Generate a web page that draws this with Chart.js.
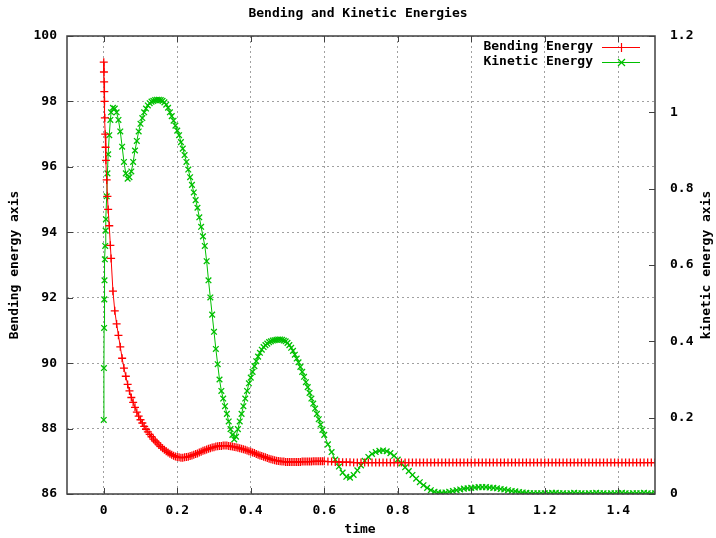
<!DOCTYPE html>
<html>
<head>
<meta charset="utf-8">
<script src="https://cdn.jsdelivr.net/npm/chart.js@4"></script>
<style>
  body { margin: 0; background: #fff; }
  #wrap { width: 716px; height: 538px; position: relative; }
</style>
</head>
<body>
<div id="wrap"><canvas id="energyChart"></canvas></div>
<script>
// data
const time = [
  0, 0.0005, 0.001, 0.0015, 0.002, 0.003, 0.004, 0.005, 0.006, 0.008, 0.01, 0.012, 0.015, 0.018,
  0.02, 0.025, 0.03, 0.035, 0.04, 0.045, 0.05, 0.055, 0.06, 0.065,
  0.07, 0.075, 0.08, 0.085, 0.09, 0.095, 0.1, 0.105, 0.11, 0.115,
  0.12, 0.125, 0.13, 0.135, 0.14, 0.145, 0.15, 0.155, 0.16, 0.165,
  0.17, 0.175, 0.18, 0.185, 0.19, 0.195, 0.2, 0.205, 0.21, 0.215,
  0.22, 0.225, 0.23, 0.235, 0.24, 0.245, 0.25, 0.255, 0.26, 0.265,
  0.27, 0.275, 0.28, 0.285, 0.29, 0.295, 0.3, 0.305, 0.31, 0.315,
  0.32, 0.325, 0.33, 0.335, 0.34, 0.345, 0.35, 0.355, 0.36, 0.365,
  0.37, 0.375, 0.38, 0.385, 0.39, 0.395, 0.4, 0.405, 0.41, 0.415,
  0.42, 0.425, 0.43, 0.435, 0.44, 0.445, 0.45, 0.455, 0.46, 0.465,
  0.47, 0.475, 0.48, 0.485, 0.49, 0.495, 0.5, 0.505, 0.51, 0.515,
  0.52, 0.525, 0.53, 0.535, 0.54, 0.545, 0.55, 0.555, 0.56, 0.565,
  0.57, 0.575, 0.58, 0.585, 0.59, 0.595, 0.6,
  0.61, 0.62, 0.63, 0.64, 0.65, 0.66, 0.67, 0.68, 0.69, 0.7,
  0.71, 0.72, 0.73, 0.74, 0.75, 0.76, 0.77, 0.78, 0.79, 0.8,
  0.81, 0.82, 0.83, 0.84, 0.85, 0.86, 0.87, 0.88, 0.89, 0.9,
  0.91, 0.92, 0.93, 0.94, 0.95, 0.96, 0.97, 0.98, 0.99, 1,
  1.01, 1.02, 1.03, 1.04, 1.05, 1.06, 1.07, 1.08, 1.09, 1.1,
  1.11, 1.12, 1.13, 1.14, 1.15, 1.16, 1.17, 1.18, 1.19, 1.2,
  1.21, 1.22, 1.23, 1.24, 1.25, 1.26, 1.27, 1.28, 1.29, 1.3,
  1.31, 1.32, 1.33, 1.34, 1.35, 1.36, 1.37, 1.38, 1.39, 1.4,
  1.41, 1.42, 1.43, 1.44, 1.45, 1.46, 1.47, 1.48, 1.49, 1.5
];

const bending = [
  99.2, 98.9, 98.6, 98.3, 98.0, 97.5, 97.0, 96.6, 96.2, 95.6, 95.1, 94.7, 94.2, 93.6,
  93.2, 92.2, 91.6, 91.2, 90.85, 90.5, 90.15, 89.85, 89.6, 89.35,
  89.15, 88.95, 88.8, 88.65, 88.5, 88.38, 88.27, 88.17, 88.07, 87.98,
  87.9, 87.82, 87.75, 87.68, 87.62, 87.56, 87.5, 87.45, 87.4, 87.35,
  87.31, 87.27, 87.23, 87.2, 87.17, 87.15, 87.13, 87.12, 87.11, 87.11,
  87.12, 87.13, 87.14, 87.16, 87.18, 87.2, 87.22, 87.24, 87.27, 87.29,
  87.32, 87.34, 87.36, 87.38, 87.4, 87.42, 87.43, 87.45, 87.46, 87.47,
  87.47, 87.48, 87.48, 87.48, 87.47, 87.46, 87.45, 87.44, 87.43, 87.41,
  87.4, 87.38, 87.37, 87.35, 87.33, 87.31, 87.29, 87.27, 87.25, 87.22,
  87.2, 87.18, 87.16, 87.14, 87.12, 87.1, 87.08, 87.06, 87.05, 87.03,
  87.02, 87.01, 87.0, 86.99, 86.99, 86.98, 86.98, 86.98, 86.98, 86.98,
  86.98, 86.98, 86.98, 86.98, 86.99, 86.99, 86.99, 86.99, 86.99, 86.99,
  87.0, 87.0, 87.0, 87.0, 87.0, 87.0, 87.0,
  86.99, 86.99, 86.98, 86.98, 86.97, 86.97, 86.97, 86.96, 86.96, 86.96,
  86.96, 86.96, 86.96, 86.96, 86.96, 86.96, 86.96, 86.96, 86.96, 86.96,
  86.96, 86.96, 86.96, 86.96, 86.96, 86.96, 86.96, 86.96, 86.96, 86.96,
  86.96, 86.96, 86.96, 86.96, 86.96, 86.96, 86.96, 86.96, 86.96, 86.96,
  86.96, 86.96, 86.96, 86.96, 86.96, 86.96, 86.96, 86.96, 86.96, 86.96,
  86.96, 86.96, 86.96, 86.96, 86.96, 86.96, 86.96, 86.96, 86.96, 86.96,
  86.96, 86.96, 86.96, 86.96, 86.96, 86.96, 86.96, 86.96, 86.96, 86.96,
  86.96, 86.96, 86.96, 86.96, 86.96, 86.96, 86.96, 86.96, 86.96, 86.96,
  86.96, 86.96, 86.96, 86.96, 86.96, 86.96, 86.96, 86.96, 86.96, 86.96
];

const kinetic = [
  0.194, 0.33, 0.435, 0.51, 0.56, 0.615, 0.65, 0.69, 0.72, 0.78, 0.84, 0.89, 0.94, 0.98,
  1.0, 1.012, 1.01, 1.0, 0.98, 0.95, 0.91, 0.87, 0.84, 0.826,
  0.83, 0.845, 0.87, 0.9, 0.925, 0.95, 0.97, 0.985, 1.0, 1.01,
  1.018, 1.024, 1.028, 1.03, 1.032, 1.033, 1.033, 1.032, 1.03, 1.026,
  1.02, 1.012, 1.0, 0.99, 0.978, 0.965, 0.952, 0.94, 0.922, 0.905,
  0.888, 0.87, 0.85, 0.83, 0.81, 0.79, 0.77, 0.75, 0.725, 0.7,
  0.675, 0.65, 0.61, 0.56, 0.515, 0.47, 0.425, 0.38, 0.34, 0.3,
  0.27, 0.25, 0.23, 0.21, 0.19, 0.17, 0.155, 0.143, 0.15, 0.17,
  0.19, 0.21, 0.23, 0.25, 0.27, 0.29, 0.305, 0.32, 0.335, 0.348,
  0.36, 0.37, 0.378, 0.385, 0.39, 0.394, 0.398, 0.4, 0.402, 0.403,
  0.404, 0.405, 0.405, 0.404, 0.402, 0.4, 0.396, 0.39, 0.383, 0.375,
  0.365, 0.355, 0.345, 0.333, 0.32, 0.307, 0.293, 0.28, 0.265, 0.25,
  0.237, 0.224, 0.21, 0.196, 0.182, 0.168, 0.155,
  0.13, 0.11, 0.09, 0.072, 0.056, 0.045, 0.043, 0.05, 0.062, 0.075,
  0.087, 0.097, 0.105, 0.11, 0.113, 0.114, 0.112, 0.107, 0.1, 0.09,
  0.08, 0.07, 0.06, 0.05, 0.04, 0.031, 0.023, 0.016, 0.01, 0.006,
  0.004, 0.003, 0.004, 0.006, 0.008, 0.01, 0.012, 0.014, 0.015, 0.016,
  0.017, 0.018, 0.018, 0.018, 0.017, 0.016, 0.015, 0.013, 0.012, 0.01,
  0.008, 0.007, 0.005, 0.004, 0.003, 0.002, 0.002, 0.002, 0.002, 0.002,
  0.002, 0.003, 0.003, 0.002, 0.002, 0.001, 0.002, 0.003, 0.002, 0.002,
  0.001, 0.002, 0.002, 0.003, 0.002, 0.002, 0.001, 0.002, 0.002, 0.002,
  0.003, 0.002, 0.001, 0.002, 0.002, 0.002, 0.003, 0.002, 0.001, 0.002
];

const xTicks = [0, 0.2, 0.4, 0.6, 0.8, 1, 1.2, 1.4];
const yTicks = [86, 88, 90, 92, 94, 96, 98, 100];
const y2Ticks = [0, 0.2, 0.4, 0.6, 0.8, 1, 1.2];

const FONT = '"DejaVu Sans Mono", "Liberation Mono", monospace';
const RED = '#ff0000';
const GREEN = '#00c000';
const FRAME = '#404040';

// gnuplot style frame, inward ticks, titles and legend
const gnuplotBits = {
  id: 'gnuplotBits',
  afterDraw(chart) {
    const { ctx, chartArea: a, scales } = chart;
    ctx.save();
    ctx.strokeStyle = FRAME;
    ctx.lineWidth = 1.5;
    ctx.strokeRect(a.left, a.top, a.right - a.left, a.bottom - a.top);

    ctx.lineWidth = 1;
    ctx.beginPath();
    xTicks.forEach(v => {
      const p = Math.round(scales.x.getPixelForValue(v)) + 0.5;
      ctx.moveTo(p, a.bottom); ctx.lineTo(p, a.bottom - 6);
      ctx.moveTo(p, a.top); ctx.lineTo(p, a.top + 6);
    });
    yTicks.forEach(v => {
      const p = Math.round(scales.y.getPixelForValue(v)) + 0.5;
      ctx.moveTo(a.left, p); ctx.lineTo(a.left + 6, p);
    });
    y2Ticks.forEach(v => {
      const p = Math.round(scales.y2.getPixelForValue(v)) + 0.5;
      ctx.moveTo(a.right, p); ctx.lineTo(a.right - 6, p);
    });
    ctx.stroke();

    ctx.fillStyle = '#000';
    ctx.font = 'bold 13px ' + FONT;
    ctx.textAlign = 'center';
    ctx.textBaseline = 'middle';
    ctx.fillText('Bending and Kinetic Energies', 358, 14);
    ctx.fillText('time', 360, 530);

    ctx.save();
    ctx.translate(15, 265);
    ctx.rotate(-Math.PI / 2);
    ctx.fillText('Bending energy axis', 0, 0);
    ctx.restore();

    ctx.save();
    ctx.translate(707, 265);
    ctx.rotate(-Math.PI / 2);
    ctx.fillText('kinetic energy axis', 0, 0);
    ctx.restore();

    // legend: text then sample
    ctx.textAlign = 'right';
    ctx.fillText('Bending Energy', 593, 47);
    ctx.fillText('Kinetic Energy', 593, 62);
    ctx.lineWidth = 1.2;
    ctx.strokeStyle = RED;
    ctx.beginPath();
    ctx.moveTo(602, 47.5); ctx.lineTo(640, 47.5);
    ctx.moveTo(621.5, 43); ctx.lineTo(621.5, 52);
    ctx.stroke();
    ctx.strokeStyle = GREEN;
    ctx.beginPath();
    ctx.moveTo(602, 62.5); ctx.lineTo(640, 62.5);
    ctx.moveTo(618, 59); ctx.lineTo(625, 66);
    ctx.moveTo(625, 59); ctx.lineTo(618, 66);
    ctx.stroke();
    ctx.restore();
  }
};

const tickFont = { family: FONT, weight: 'bold', size: 13 };

new Chart(document.getElementById('energyChart'), {
  type: 'line',
  data: {
    datasets: [
      {
        label: 'Bending Energy',
        data: time.map((t, i) => ({ x: t, y: bending[i] })),
        yAxisID: 'y',
        borderColor: RED,
        borderWidth: 1,
        pointStyle: 'cross',
        pointRadius: 4,
        pointBorderWidth: 1.3,
        pointBorderColor: RED,
        pointBackgroundColor: RED,
        tension: 0,
        fill: false
      },
      {
        label: 'Kinetic Energy',
        data: time.map((t, i) => ({ x: t, y: kinetic[i] })),
        yAxisID: 'y2',
        borderColor: GREEN,
        borderWidth: 1,
        pointStyle: 'crossRot',
        pointRadius: 4,
        pointBorderWidth: 1.3,
        pointBorderColor: GREEN,
        pointBackgroundColor: GREEN,
        tension: 0,
        fill: false
      }
    ]
  },
  options: {
    responsive: true,
    maintainAspectRatio: false,
    animation: false,
    events: [],
    layout: { padding: { top: 36, left: 0, right: 0, bottom: 0 } },
    plugins: {
      legend: { display: false },
      title: { display: false },
      tooltip: { enabled: false }
    },
    scales: {
      x: {
        type: 'linear',
        min: -0.1,
        max: 1.5,
        afterBuildTicks: s => { s.ticks = xTicks.map(v => ({ value: v })); },
        afterFit: s => { s.height = 44; },
        grid: { color: '#a0a0a0', drawTicks: false },
        border: { display: false, dash: [2, 3] },
        ticks: { font: tickFont, color: '#000', padding: 9, maxRotation: 0, callback: v => String(v) }
      },
      y: {
        type: 'linear',
        position: 'left',
        min: 86,
        max: 100,
        afterBuildTicks: s => { s.ticks = yTicks.map(v => ({ value: v })); },
        afterFit: s => { s.width = 67; },
        grid: { color: '#a0a0a0', drawTicks: false },
        border: { display: false, dash: [2, 3] },
        ticks: { font: tickFont, color: '#000', padding: 10 }
      },
      y2: {
        type: 'linear',
        position: 'right',
        min: 0,
        max: 1.2,
        afterBuildTicks: s => { s.ticks = y2Ticks.map(v => ({ value: v })); },
        afterFit: s => { s.width = 61; },
        grid: { drawOnChartArea: false, drawTicks: false },
        border: { display: false },
        ticks: { font: tickFont, color: '#000', padding: 15, callback: v => String(v) }
      }
    }
  },
  plugins: [gnuplotBits]
});
</script>
</body>
</html>
